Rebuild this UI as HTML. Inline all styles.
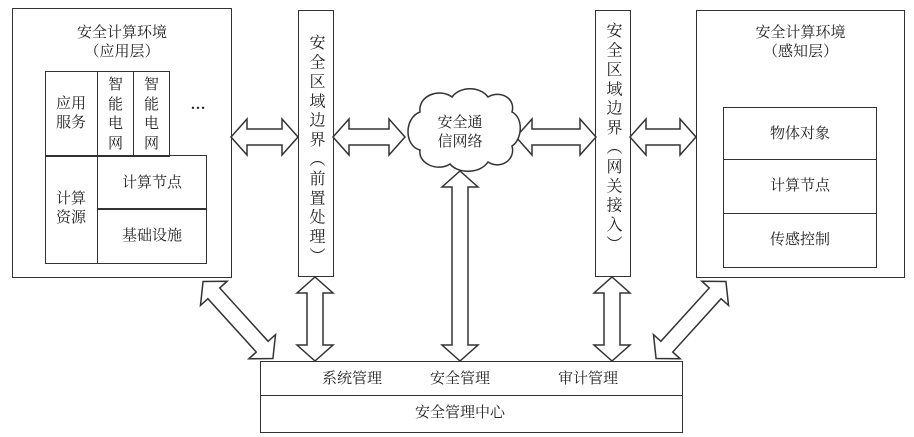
<!DOCTYPE html>
<html><head><meta charset="utf-8"><style>
body{margin:0;background:#fff;}
#c{position:relative;width:914px;height:437px;overflow:hidden;font-family:"Liberation Serif","Noto Serif CJK SC",serif;color:#222;}
.b{position:absolute;border:1.5px solid #333;box-sizing:border-box;}
.t{position:absolute;text-align:center;font-size:15px;line-height:19px;}
.v{position:absolute;writing-mode:vertical-rl;font-size:16px;letter-spacing:3.4px;line-height:16px;}
svg{position:absolute;left:0;top:0;}
</style></head><body><div id="c">
<svg width="914" height="437">
<g fill="#fff" stroke="#333" stroke-width="1.5">
<polygon transform="translate(264.5,137)" points="-33.5,0 -17.5,-18 -17.5,-8 17.5,-8 17.5,-18 33.5,0 17.5,18 17.5,8 -17.5,8 -17.5,18"/>
<polygon transform="translate(369,137)" points="-36,0 -20,-18 -20,-8 20,-8 20,-18 36,0 20,18 20,8 -20,8 -20,18"/>
<polygon transform="translate(556,137)" points="-40,0 -24,-18 -24,-8 24,-8 24,-18 40,0 24,18 24,8 -24,8 -24,18"/>
<polygon transform="translate(663,137)" points="-33,0 -17,-18 -17,-8 17,-8 17,-18 33,0 17,18 17,8 -17,8 -17,18"/>
<polygon transform="translate(315,319) rotate(90)" points="-42,0 -26,-18 -26,-8 26,-8 26,-18 42,0 26,18 26,8 -26,8 -26,18"/>
<polygon transform="translate(612,319) rotate(90)" points="-42,0 -26,-18 -26,-8 26,-8 26,-18 42,0 26,18 26,8 -26,8 -26,18"/>
<polygon transform="translate(460,266) rotate(90)" points="-95,0 -79,-18 -79,-8 79,-8 79,-18 95,0 79,18 79,8 -79,8 -79,18"/>
<polygon transform="translate(238,320) rotate(47.8)" points="-52,0 -36,-18 -36,-8 36,-8 36,-18 52,0 36,18 36,8 -36,8 -36,18"/>
<polygon transform="translate(691,320) rotate(132.2)" points="-52,0 -36,-18 -36,-8 36,-8 36,-18 52,0 36,18 36,8 -36,8 -36,18"/>
<path d="M420,112 C418,95 440,88 452,97 C460,86 480,86 488,97 C500,90 516,98 512,112 C524,118 522,140 512,146 C516,160 500,170 488,162 C480,174 458,174 450,164 C438,172 418,164 420,150 C404,146 404,118 420,112 Z"/>
</g></svg>
<div class="b" style="left:12px;top:8px;width:220px;height:270px"></div>
<div class="t" style="left:12px;top:24px;width:220px">安全计算环境<br>（应用层）</div>
<div class="b" style="left:45px;top:71px;width:125px;height:86px"></div>
<div class="b" style="left:97px;top:71px;width:37px;height:86px"></div>
<div class="b" style="left:45px;top:155px;width:162px;height:109px"></div>
<div class="b" style="left:97px;top:155px;width:110px;height:55px"></div>
<div class="b" style="left:97px;top:208px;width:110px;height:56px"></div>
<div class="t" style="left:45px;top:95px;width:52px">应用<br>服务</div>
<div class="t" style="left:97px;top:76px;width:37px;line-height:19.5px">智<br>能<br>电<br>网</div>
<div class="t" style="left:133px;top:76px;width:37px;line-height:19.5px">智<br>能<br>电<br>网</div>
<div class="t" style="left:180px;top:96px;width:36px;font-weight:bold">…</div>
<div class="t" style="left:45px;top:190px;width:52px">计算<br>资源</div>
<div class="t" style="left:97px;top:174px;width:110px">计算节点</div>
<div class="t" style="left:97px;top:227px;width:110px">基础设施</div>
<div class="b" style="left:298px;top:10px;width:36px;height:267px"></div>
<div class="v" style="left:307px;top:34px">安全区域边界（前置处理）</div>
<div class="b" style="left:595px;top:10px;width:36px;height:267px"></div>
<div class="v" style="left:604px;top:22px">安全区域边界（网关接入）</div>
<div class="t" style="left:420px;top:114px;width:80px">安全通<br>信网络</div>
<div class="b" style="left:696px;top:10px;width:209px;height:268px"></div>
<div class="t" style="left:696px;top:24px;width:209px">安全计算环境<br>（感知层）</div>
<div class="b" style="left:723px;top:107px;width:154px;height:161px"></div>
<div class="b" style="left:723px;top:159px;width:154px;height:55px"></div>
<div class="t" style="left:723px;top:125px;width:154px">物体对象</div>
<div class="t" style="left:723px;top:177px;width:154px">计算节点</div>
<div class="t" style="left:723px;top:231px;width:154px">传感控制</div>
<div class="b" style="left:260px;top:361px;width:423px;height:72px"></div>
<div class="b" style="left:260px;top:395px;width:423px;height:1.5px;border-width:1px 0 0 0"></div>
<div class="t" style="left:312px;top:370px;width:80px">系统管理</div>
<div class="t" style="left:420px;top:370px;width:80px">安全管理</div>
<div class="t" style="left:548px;top:370px;width:80px">审计管理</div>
<div class="t" style="left:400px;top:404px;width:120px">安全管理中心</div>
</div></body></html>
